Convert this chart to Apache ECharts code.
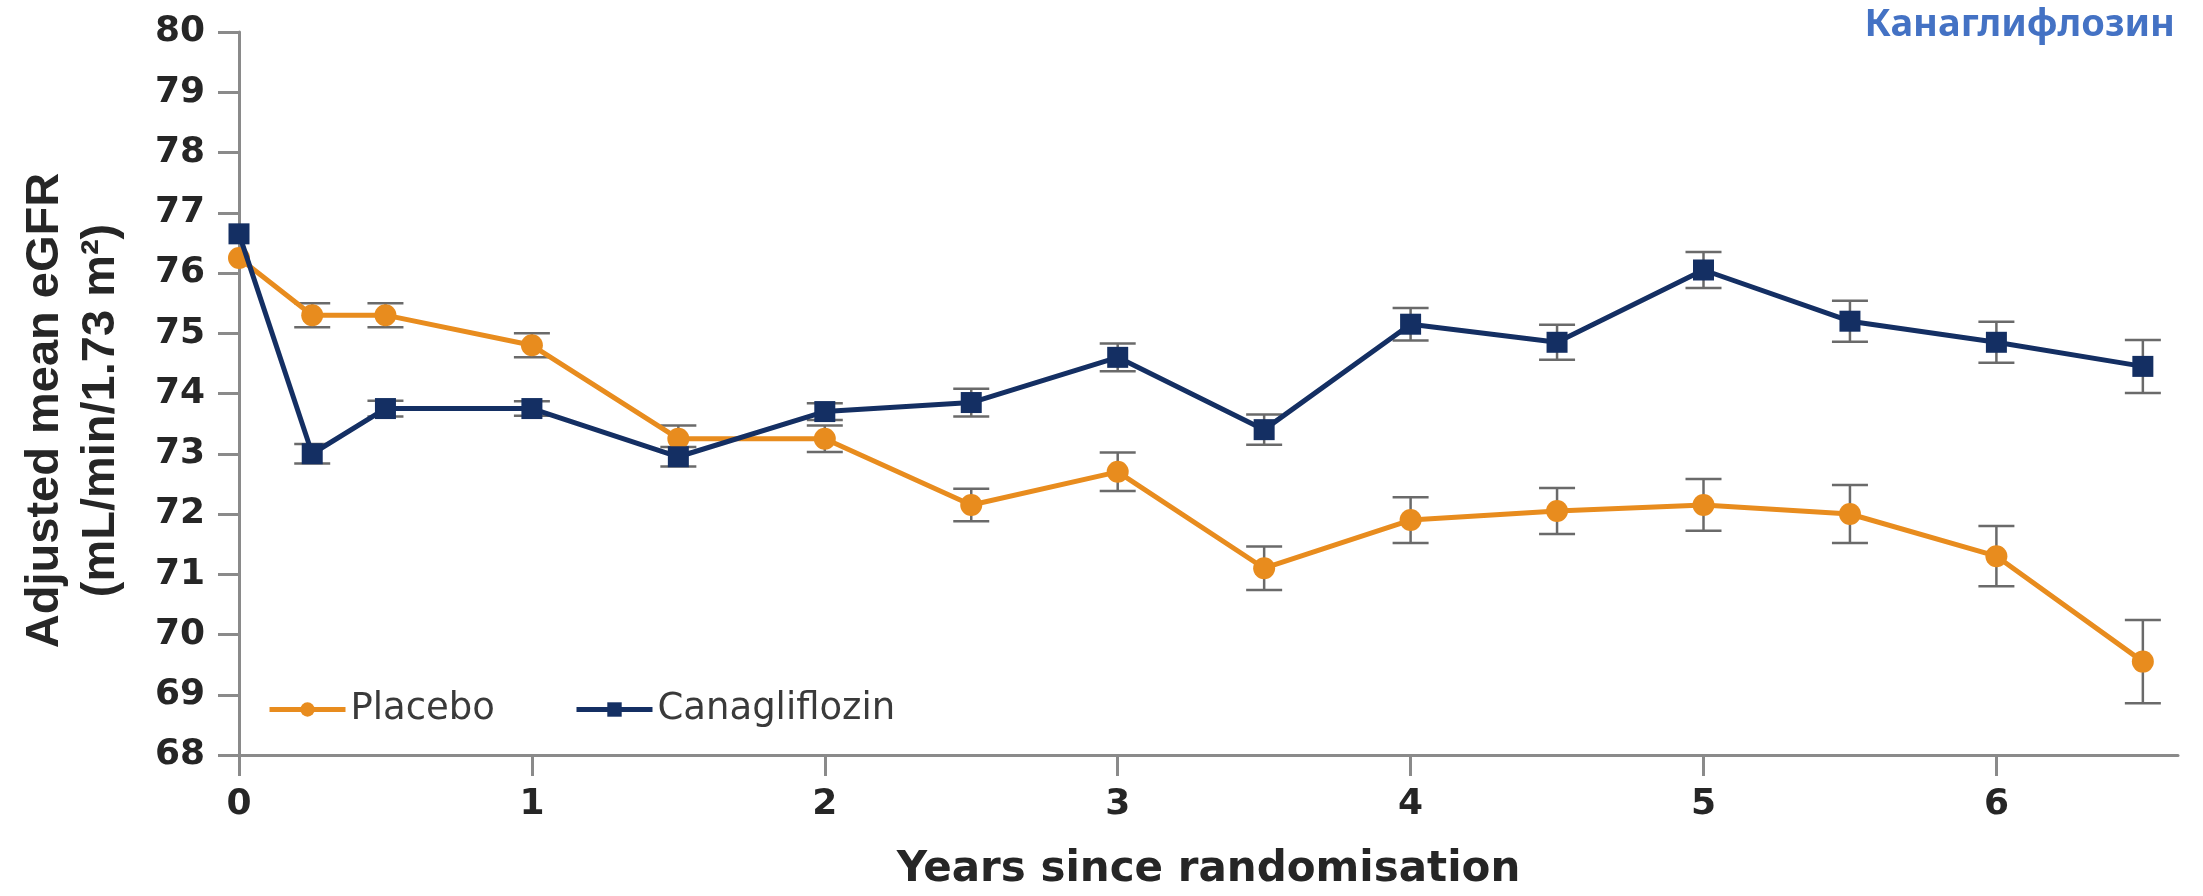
<!DOCTYPE html>
<html>
<head>
<meta charset="utf-8">
<script src="https://cdn.jsdelivr.net/npm/echarts@6/dist/echarts.min.js"></script>
<style>
  html, body { margin: 0; padding: 0; background: #ffffff; }
  #chart { width: 2203px; height: 896px; }
</style>
</head>
<body>
<div id="chart"></div>
<script>
// Adjusted mean eGFR over time, with standard-error bars
const years = [0, 0.25, 0.5, 1, 1.5, 2, 2.5, 3, 3.5, 4, 4.5, 5, 5.5, 6, 6.5];
const placeboMean = [76.25, 75.3, 75.3, 74.8, 73.25, 73.25, 72.15, 72.7, 71.1, 71.9, 72.05, 72.15, 72.0, 71.3, 69.55];
const placeboErr  = [0, 0.2, 0.2, 0.2, 0.22, 0.22, 0.27, 0.32, 0.36, 0.38, 0.38, 0.43, 0.48, 0.5, 0.69];
const canaMean    = [76.65, 73.0, 73.75, 73.75, 72.95, 73.7, 73.85, 74.6, 73.4, 75.15, 74.85, 76.05, 75.2, 74.85, 74.45];
const canaErr     = [0, 0.16, 0.13, 0.12, 0.16, 0.14, 0.23, 0.23, 0.25, 0.27, 0.29, 0.3, 0.34, 0.34, 0.44];
const xTicks = [0, 1, 2, 3, 4, 5, 6];
const yTicks = [68, 69, 70, 71, 72, 73, 74, 75, 76, 77, 78, 79, 80];

const ORANGE = '#e88c1e';
const NAVY = '#142f63';
const AXIS = '#8a8a8a';
const TEXT = '#262626';

function pairs(means) {
  return years.map((t, i) => [t, means[i]]);
}
function bars(means, errs) {
  return years
    .map((t, i) => [t, means[i] - errs[i], means[i] + errs[i]])
    .filter((d, i) => errs[i] > 0);
}

function renderErrorBar(params, api) {
  const x = api.value(0);
  const top = api.coord([x, api.value(2)]);
  const bot = api.coord([x, api.value(1)]);
  const half = 18;
  const style = { stroke: '#6a6a6a', lineWidth: 2.5 };
  return {
    type: 'group',
    children: [
      { type: 'line', shape: { x1: top[0], y1: top[1], x2: bot[0], y2: bot[1] }, style },
      { type: 'line', shape: { x1: top[0] - half, y1: top[1], x2: top[0] + half, y2: top[1] }, style },
      { type: 'line', shape: { x1: bot[0] - half, y1: bot[1], x2: bot[0] + half, y2: bot[1] }, style }
    ]
  };
}

const chart = echarts.init(document.getElementById('chart'), null, { renderer: 'canvas' });

chart.setOption({
  backgroundColor: '#ffffff',
  animation: false,
  graphic: [{
    type: 'text',
    right: 28,
    top: 6,
    style: {
      text: 'Канаглифлозин',
      fill: '#4472c4',
      font: 'bold 38px "Noto Sans", "Open Sans", sans-serif'
    }
  }],
  grid: { left: 239, right: 25, top: 32, bottom: 136 },
  legend: {
    left: 262,
    top: 686,
    itemWidth: 76,
    itemHeight: 18,
    itemGap: 79,
    data: ['Placebo', 'Canagliflozin'],
    lineStyle: { width: 5 },
    textStyle: { fontFamily: 'DejaVu Sans', fontSize: 37, color: '#3a3a3a' }
  },
  xAxis: {
    type: 'value',
    min: 0,
    max: 6.62,
    interval: 1,
    name: 'Years since randomisation',
    nameLocation: 'middle',
    nameGap: 94,
    nameTextStyle: { fontFamily: 'DejaVu Sans', fontWeight: 'bold', fontSize: 42, color: TEXT },
    axisLine: { lineStyle: { color: AXIS, width: 3 } },
    axisTick: { show: true, length: 21, lineStyle: { color: AXIS, width: 3 }, customValues: xTicks },
    axisLabel: {
      customValues: xTicks,
      margin: 32,
      fontFamily: 'DejaVu Sans', fontWeight: 'bold', fontSize: 36, color: TEXT
    },
    splitLine: { show: false }
  },
  yAxis: {
    type: 'value',
    min: 68,
    max: 80,
    interval: 1,
    name: 'Adjusted mean eGFR\n(mL/min/1.73 m²)',
    nameLocation: 'middle',
    nameRotate: 90,
    nameGap: 110,
    nameTextStyle: {
      fontFamily: 'Liberation Sans', fontWeight: 'bold', fontSize: 47,
      lineHeight: 56, color: TEXT, align: 'center',
      padding: [0, 34, 0, 0]
    },
    axisLine: { show: true, lineStyle: { color: AXIS, width: 3 } },
    axisTick: { show: true, length: 21, lineStyle: { color: AXIS, width: 3 } },
    axisLabel: {
      margin: 34,
      fontFamily: 'DejaVu Sans', fontWeight: 'bold', fontSize: 36, color: TEXT,
      formatter: v => (yTicks.indexOf(v) >= 0 ? String(v) : '')
    },
    splitLine: { show: false }
  },
  series: [
    {
      name: 'Placebo err',
      type: 'custom',
      renderItem: renderErrorBar,
      data: bars(placeboMean, placeboErr),
      encode: { x: 0, y: [1, 2] },
      z: 1,
      silent: true
    },
    {
      name: 'Canagliflozin err',
      type: 'custom',
      renderItem: renderErrorBar,
      data: bars(canaMean, canaErr),
      encode: { x: 0, y: [1, 2] },
      z: 1,
      silent: true
    },
    {
      name: 'Placebo',
      type: 'line',
      data: pairs(placeboMean),
      symbol: 'circle',
      symbolSize: 22,
      itemStyle: { color: ORANGE },
      lineStyle: { color: ORANGE, width: 5 },
      z: 3
    },
    {
      name: 'Canagliflozin',
      type: 'line',
      data: pairs(canaMean),
      symbol: 'rect',
      symbolSize: 21,
      itemStyle: { color: NAVY },
      lineStyle: { color: NAVY, width: 5 },
      z: 4
    }
  ]
});
</script>
</body>
</html>
